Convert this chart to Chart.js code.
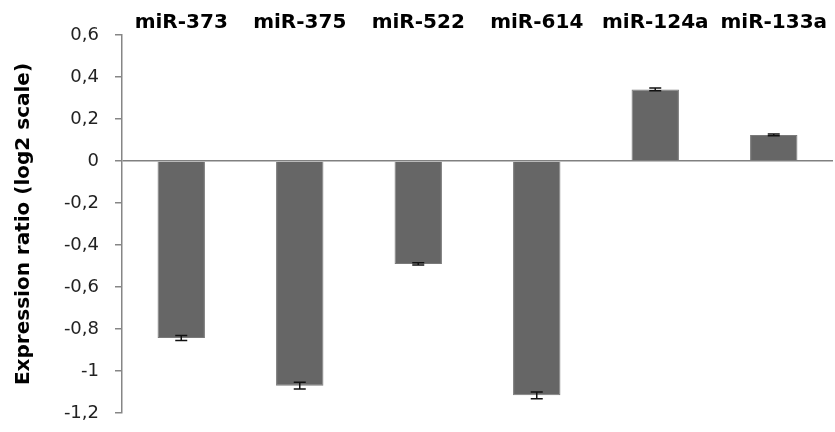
<!DOCTYPE html>
<html>
<head>
<meta charset="utf-8">
<script src="https://cdn.jsdelivr.net/npm/chart.js@4.4.0/dist/chart.umd.min.js"></script>
<style>
  html, body { margin: 0; padding: 0; background: #fff; }
  #wrap { width: 835px; height: 432px; }
</style>
</head>
<body>
<div id="wrap"><canvas id="chart" width="835" height="432"></canvas></div>
<script>
// Expression data (log2 ratios)
const categories = ['miR-373', 'miR-375', 'miR-522', 'miR-614', 'miR-124a', 'miR-133a'];
const ratios = [-0.843, -1.07, -0.49, -1.116, 0.341, 0.124];
const errors = [0.012, 0.016, 0.005, 0.016, 0.007, 0.004];
const yTicks = [0.6, 0.4, 0.2, 0, -0.2, -0.4, -0.6, -0.8, -1, -1.2];

const FONT = '"DejaVu Sans"';

// draws the small error bars using the chart's own scales
const errorBarPlugin = {
  id: 'errorBars',
  afterDatasetsDraw(chart) {
    const ctx = chart.ctx;
    const yScale = chart.scales.y;
    const meta = chart.getDatasetMeta(0);
    ctx.save();
    ctx.strokeStyle = '#111';
    ctx.lineWidth = 1.5;
    meta.data.forEach((bar, i) => {
      const v = ratios[i];
      const top = yScale.getPixelForValue(v + errors[i]);
      const bottom = yScale.getPixelForValue(v - errors[i]);
      const half = 6;
      ctx.beginPath();
      ctx.moveTo(bar.x, top);
      ctx.lineTo(bar.x, bottom);
      ctx.moveTo(bar.x - half, top);
      ctx.lineTo(bar.x + half, top);
      ctx.moveTo(bar.x - half, bottom);
      ctx.lineTo(bar.x + half, bottom);
      ctx.stroke();
    });
    ctx.restore();
  }
};

new Chart(document.getElementById('chart'), {
  type: 'bar',
  data: {
    labels: categories,
    datasets: [{
      data: ratios,
      backgroundColor: '#666666',
      borderColor: '#7a7a7a',
      borderWidth: 1,
      barPercentage: 0.4,
      categoryPercentage: 1.0
    }]
  },
  options: {
    responsive: false,
    animation: false,
    layout: { padding: { left: 0, right: 2, top: 0, bottom: 19 } },
    plugins: {
      legend: { display: false },
      tooltip: { enabled: false }
    },
    scales: {
      x: {
        position: 'top',
        grid: { display: false, drawTicks: false },
        border: { display: false },
        ticks: {
          color: '#000',
          padding: 0,
          maxRotation: 0,
          autoSkip: false,
          font: { family: FONT, size: 20, weight: 'bold' }
        },
        afterFit(scale) { scale.height = 35; }
      },
      y: {
        min: -1.2,
        max: 0.6,
        afterBuildTicks(scale) {
          scale.ticks = yTicks.map(v => ({ value: v }));
        },
        border: { display: true, color: '#868686', width: 1.5 },
        grid: {
          drawOnChartArea: true,
          color: c => (c.tick && c.tick.value === 0 ? '#808080' : 'transparent'),
          lineWidth: 1.5,
          tickColor: '#868686',
          tickLength: 7
        },
        ticks: {
          color: '#222',
          padding: 16,
          font: { family: FONT, size: 18 },
          callback: v => String(Math.round(v * 10) / 10).replace('.', ',')
        },
        title: {
          display: true,
          text: 'Expression ratio (log2 scale)',
          color: '#000',
          padding: { top: 12, bottom: 0 },
          font: { family: FONT, size: 20, weight: 'bold' }
        },
        afterFit(scale) {
          // fixed axis width, no extra room for the end labels
          scale.width = 122;
          scale.paddingTop = 0;
          scale.paddingBottom = 0;
        }
      }
    }
  },
  plugins: [errorBarPlugin]
});
</script>
</body>
</html>
